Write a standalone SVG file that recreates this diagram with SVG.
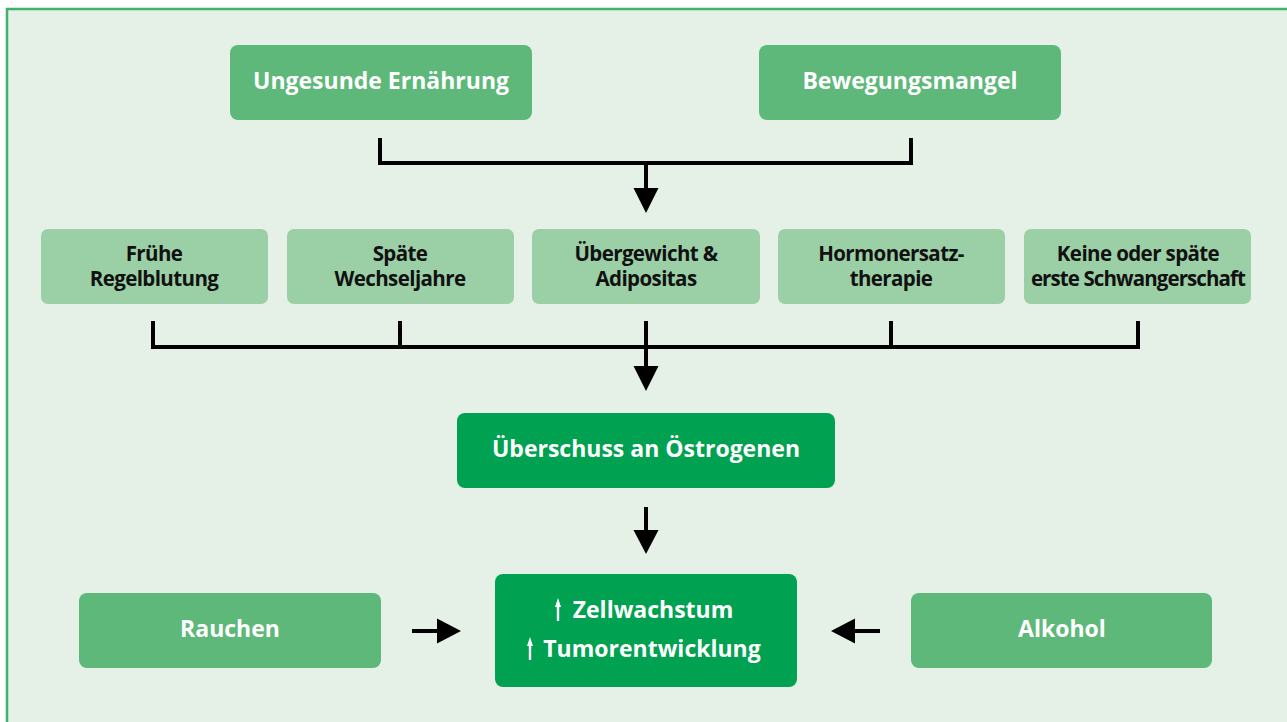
<svg xmlns="http://www.w3.org/2000/svg" width="1287" height="722" viewBox="0 0 1287 722">
<defs>
<style>
.t1{font-family:"Open Sans","Noto Sans",sans-serif;font-weight:700;font-size:23px;fill:#fff;text-anchor:middle}
.t2{font-family:"Open Sans","Noto Sans",sans-serif;font-weight:700;font-size:20.5px;fill:#111;text-anchor:middle;letter-spacing:-0.6px}
.b1{fill:#5db87a}
.b2{fill:#9bcfa6}
.b3{fill:#00a251}
.ln{stroke:#000;stroke-width:4;fill:none}
.hd{fill:#000}
</style>
</defs>
<rect x="0" y="0" width="1287" height="722" fill="#ffffff"/>
<rect x="7" y="9" width="1300" height="740" fill="#e5f0e7" stroke="#3db36b" stroke-width="2.5"/>

<g id="n-ernaehrung"><rect class="b1" x="230" y="45" width="302" height="75" rx="8"/><text class="t1" x="381" y="89">Ungesunde Ernährung</text></g>
<g id="n-bewegung"><rect class="b1" x="759" y="45" width="302" height="75" rx="8"/><text class="t1" x="910" y="89">Bewegungsmangel</text></g>

<g id="n-regel"><rect class="b2" x="41" y="229" width="227" height="75" rx="7"/><text class="t2" x="154" y="261">Frühe</text><text class="t2" x="154" y="286">Regelblutung</text></g>
<g id="n-wechsel"><rect class="b2" x="287" y="229" width="227" height="75" rx="7"/><text class="t2" x="400" y="261">Späte</text><text class="t2" x="400" y="286">Wechseljahre</text></g>
<g id="n-uebergewicht"><rect class="b2" x="532" y="229" width="228" height="75" rx="7"/><text class="t2" x="646" y="261">Übergewicht &amp;</text><text class="t2" x="646" y="286">Adipositas</text></g>
<g id="n-hormon"><rect class="b2" x="778" y="229" width="227" height="75" rx="7"/><text class="t2" x="891" y="261">Hormonersatz-</text><text class="t2" x="891" y="286">therapie</text></g>
<g id="n-schwanger"><rect class="b2" x="1024" y="229" width="227" height="75" rx="7"/><text class="t2" x="1138" y="261">Keine oder späte</text><text class="t2" x="1138" y="286" style="letter-spacing:-0.9px">erste Schwangerschaft</text></g>

<g id="n-oestrogen"><rect class="b3" x="457" y="413" width="378" height="75" rx="8"/><text class="t1" x="646" y="457">Überschuss an Östrogenen</text></g>

<g id="n-wachstum"><rect class="b3" x="495" y="574" width="302" height="113" rx="8"/>
<path d="M558,621 V604" stroke="#fff" stroke-width="2.4"/><path d="M558,598 L555,607 L561,607 Z" fill="#fff"/>
<text class="t1" x="653" y="618">Zellwachstum</text>
<path d="M530,660 V643" stroke="#fff" stroke-width="2.4"/><path d="M530,637 L527,646 L533,646 Z" fill="#fff"/>
<text class="t1" x="652" y="657">Tumorentwicklung</text></g>

<g id="n-rauchen"><rect class="b1" x="79" y="593" width="302" height="75" rx="8"/><text class="t1" x="230" y="637">Rauchen</text></g>
<g id="n-alkohol"><rect class="b1" x="911" y="593" width="301" height="75" rx="8"/><text class="t1" x="1062" y="637">Alkohol</text></g>

<g id="connectors">
<path class="ln" d="M380,138 V163 H911 V138"/>
<path class="ln" d="M646,163 V190"/>
<path class="hd" d="M633.5,188 H658.5 L646,213 Z"/>

<path class="ln" d="M153,321 V347 H1138 V321 M400,321 V347 M891,321 V347 M646,321 V368"/>
<path class="hd" d="M633.5,366 H658.5 L646,391 Z"/>

<path class="ln" d="M646,507 V533"/>
<path class="hd" d="M633.5,530 H658.5 L646,554 Z"/>

<path class="ln" d="M412,631 H440"/>
<path class="hd" d="M437,618.5 V643.5 L461,631 Z"/>

<path class="ln" d="M880,631 H852"/>
<path class="hd" d="M855,618.5 V643.5 L831,631 Z"/>
</g>
</svg>
